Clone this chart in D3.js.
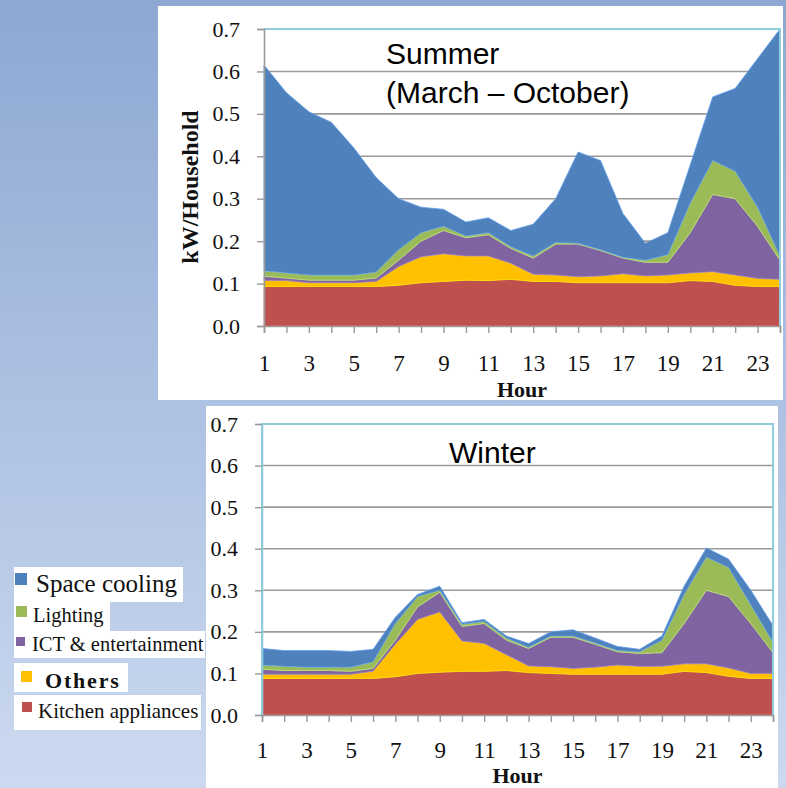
<!DOCTYPE html>
<html><head><meta charset="utf-8">
<script src="https://cdn.jsdelivr.net/npm/d3@7"></script>
<style>html,body{margin:0;padding:0;overflow:hidden;}svg{display:block;}</style>
</head><body>
<script>
const hours = [1,2,3,4,5,6,7,8,9,10,11,12,13,14,15,16,17,18,19,20,21,22,23,24];
const xTickLabels = [1,3,5,7,9,11,13,15,17,19,21,23];
const yTicks = [0,0.1,0.2,0.3,0.4,0.5,0.6,0.7];
const seriesNames = ["Kitchen appliances","Others","ICT & entertainment","Lighting","Space cooling"];
const legendOrder = ["Space cooling","Lighting","ICT & entertainment","Others","Kitchen appliances"];
const colors = ["#C0504D","#FFC000","#8064A2","#9BBB59","#4F81BD"];

// Summer (March – October)
const summerKitchen = [.093,.093,.093,.093,.093,.093,.096,.102,.105,.108,.107,.110,.105,.105,.102,.102,.102,.102,.102,.107,.105,.096,.093,.093];
const summerOthers  = [.014,.014,.009,.009,.009,.012,.044,.061,.065,.057,.058,.038,.017,.015,.014,.016,.021,.016,.018,.018,.023,.024,.019,.017];
const summerICT     = [.010,.006,.006,.006,.006,.008,.015,.037,.055,.043,.050,.035,.038,.073,.077,.060,.037,.032,.030,.095,.182,.180,.123,.045];
const summerLight   = [.013,.012,.012,.012,.012,.014,.025,.020,.010,.004,.005,.004,.005,.004,.002,.002,.002,.005,.018,.070,.080,.065,.045,.010];
const summerCool    = [.485,.425,.385,.360,.300,.223,.120,.060,.040,.033,.035,.038,.075,.103,.215,.210,.103,.040,.052,.090,.150,.195,.350,.535];

// Winter
const winterKitchen = [.088,.088,.088,.088,.088,.088,.092,.100,.103,.105,.105,.107,.102,.100,.098,.098,.098,.098,.098,.105,.102,.093,.088,.088];
const winterOthers  = [.010,.010,.010,.010,.010,.017,.078,.130,.145,.073,.067,.038,.016,.016,.014,.017,.022,.019,.019,.018,.021,.020,.012,.012];
const winterICT     = [.012,.009,.009,.009,.007,.007,.010,.030,.047,.035,.048,.035,.042,.071,.075,.055,.032,.031,.033,.097,.177,.172,.120,.050];
const winterLight   = [.010,.010,.008,.008,.010,.016,.040,.025,.005,.005,.005,.005,.003,.003,.003,.003,.003,.004,.030,.070,.080,.070,.045,.025];
const winterCool    = [.040,.038,.040,.040,.038,.030,.015,.005,.010,.004,.005,.005,.009,.010,.015,.012,.010,.006,.010,.020,.022,.020,.035,.040];

const W = 786, H = 788;
const svg = d3.select("body").append("svg").attr("width", W).attr("height", H);
const defs = svg.append("defs");
const grad = defs.append("linearGradient").attr("id","bg").attr("x1",0).attr("y1",0).attr("x2",0).attr("y2",1);
grad.append("stop").attr("offset","0%").attr("stop-color","#8DA8D3");
grad.append("stop").attr("offset","100%").attr("stop-color","#CCD9F0");
svg.append("rect").attr("width",W).attr("height",H).attr("fill","url(#bg)");

const serif = "'Liberation Serif','Times New Roman',serif";
const sans = "'Liberation Sans',Arial,sans-serif";

function buildRows(k,o,i,l,c){
  return hours.map((h,idx)=>({hour:h,
    "Kitchen appliances":k[idx],"Others":o[idx],"ICT & entertainment":i[idx],"Lighting":l[idx],"Space cooling":c[idx]}));
}

function drawPanel(cfg){
  const g = svg.append("g");
  g.append("rect").attr("x",cfg.px).attr("y",cfg.py).attr("width",cfg.pw).attr("height",cfg.ph).attr("fill","#fff");
  const x = d3.scaleLinear().domain([1,24]).range([cfg.left,cfg.right]);
  const y = d3.scaleLinear().domain([0,0.7]).range([cfg.bottom,cfg.top]);
  // gridlines
  g.append("g").selectAll("line").data(yTicks.filter(t=>t>0 && t<0.7)).join("line")
    .attr("x1",cfg.left).attr("x2",cfg.right).attr("y1",d=>y(d)).attr("y2",d=>y(d))
    .attr("stroke","#9a9a9a").attr("stroke-width",1.6);
  // areas
  const stack = d3.stack().keys(seriesNames);
  const layers = stack(cfg.rows);
  const area = d3.area().x(d=>x(d.data.hour)).y0(d=>y(d[0])).y1(d=>y(d[1]));
  g.append("g").selectAll("path").data(layers).join("path")
    .attr("d",area).attr("fill",(d,i)=>colors[i])
    .attr("stroke",(d,i)=>d3.color(colors[i]).brighter(0.6)).attr("stroke-width",0.8);
  // border (light blue)
  const bp = d3.path();
  if (cfg.leftBorder){ bp.moveTo(cfg.left,cfg.bottom); bp.lineTo(cfg.left,cfg.top);} else bp.moveTo(cfg.left,cfg.top);
  bp.lineTo(cfg.right,cfg.top); bp.lineTo(cfg.right,cfg.bottom);
  g.append("path").attr("d",bp.toString()).attr("fill","none").attr("stroke","#8FCCDD").attr("stroke-width",2);
  // y axis
  const ya = d3.axisLeft(y).tickValues(yTicks).tickFormat(d3.format(".1f")).tickSize(7).tickPadding(17);
  const yg = g.append("g").attr("transform",`translate(${cfg.left},0)`).call(ya);
  yg.select(".domain").attr("stroke", cfg.leftBorder ? "#8FCCDD" : "#9a9a9a").attr("stroke-width",1.6);
  yg.selectAll(".tick line").attr("stroke","#9a9a9a").attr("stroke-width",1.4);
  yg.selectAll("text").attr("font-family",serif).attr("font-size",22).attr("fill","#111");
  // x axis
  const xa = d3.axisBottom(x).tickValues(hours).tickFormat(d=>xTickLabels.includes(d)?d:"").tickSize(7).tickPadding(cfg.xPad);
  const xg = g.append("g").attr("transform",`translate(0,${cfg.bottom})`).call(xa);
  xg.select(".domain").attr("stroke","#9a9a9a").attr("stroke-width",1.6);
  xg.selectAll(".tick line").attr("stroke","#9a9a9a").attr("stroke-width",1.4);
  xg.selectAll("text").attr("font-family",serif).attr("font-size",23).attr("fill","#111");
  // x title
  g.append("text").attr("x",(cfg.left+cfg.right)/2).attr("y",cfg.hourY).attr("text-anchor","middle")
    .attr("font-family",serif).attr("font-weight","bold").attr("font-size",22).attr("fill","#111").text("Hour");
  // titles
  cfg.titles.forEach(t=>{
    g.append("text").attr("x",t.x).attr("y",t.y).attr("font-family",sans).attr("font-size",30).attr("fill","#000").text(t.text);
  });
  if (cfg.yTitle){
    g.append("text").attr("transform",`translate(${cfg.yTitleX},${cfg.yTitleY}) rotate(-90)`)
      .attr("text-anchor","middle").attr("font-family",serif).attr("font-weight","bold").attr("font-size",24).attr("fill","#111").text(cfg.yTitle);
  }
}

drawPanel({px:158,py:6,pw:625,ph:394,left:264,right:780,top:29,bottom:326,hourY:397,xPad:22,
  rows:buildRows(summerKitchen,summerOthers,summerICT,summerLight,summerCool),
  leftBorder:false, yTitle:"kW/Household", yTitleX:198, yTitleY:187,
  titles:[{x:386,y:64,text:"Summer"},{x:386,y:103,text:"(March – October)"}]});

drawPanel({px:206,py:406,pw:572,ph:382,left:262,right:773,top:424,bottom:715,hourY:783,xPad:20,
  rows:buildRows(winterKitchen,winterOthers,winterICT,winterLight,winterCool),
  leftBorder:true,
  titles:[{x:449,y:463,text:"Winter"}]});

// legend
const legendBoxes = [
  {x:14,y:567,w:169,h:35, sq:[15,573,12], tx:36, ty:592, fs:25, bold:false, ls:0},
  {x:14,y:602,w:96,h:29, sq:[16,606,11], tx:33, ty:622, fs:20.5, bold:false, ls:0},
  {x:14,y:631,w:191,h:27, sq:[16,637,9], tx:32, ty:651, fs:20.5, bold:false, ls:0},
  {x:14,y:663,w:114,h:29, sq:[21,671,11], tx:45, ty:688, fs:22, bold:true, ls:1.8},
  {x:14,y:695,w:187,h:35, sq:[22,702,10], tx:38, ty:718, fs:21, bold:false, ls:0}
];
const lg = svg.append("g");
legendOrder.forEach((name,i)=>{
  const b = legendBoxes[i];
  lg.append("rect").attr("x",b.x).attr("y",b.y).attr("width",b.w).attr("height",b.h).attr("fill","#fff");
  lg.append("rect").attr("x",b.sq[0]).attr("y",b.sq[1]).attr("width",b.sq[2]).attr("height",b.sq[2])
    .attr("fill",colors[seriesNames.indexOf(name)]);
  lg.append("text").attr("x",b.tx).attr("y",b.ty).attr("font-family",serif).attr("font-size",b.fs)
    .attr("font-weight",b.bold?"bold":"normal").attr("letter-spacing",b.ls).attr("fill","#111").text(name);
});
</script>
</body></html>
